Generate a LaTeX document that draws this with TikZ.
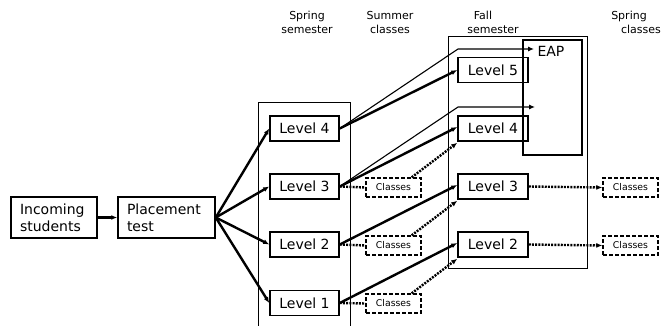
\documentclass[tikz,border=0pt]{standalone}
\usepackage{fontspec}
\setmainfont{DejaVu Sans}
\usetikzlibrary{arrows.meta}
\begin{document}
\begin{tikzpicture}[x=1pt,y=-1pt,
  lvl/.style={draw,line width=1.5pt,minimum width=69pt,minimum height=25pt,inner sep=0pt,font=\fontsize{14}{17}\selectfont},
  startbox/.style={draw,line width=1.5pt,minimum height=41pt,inner xsep=9pt,inner ysep=0pt,align=left,font=\fontsize{14}{17}\selectfont},
  cls/.style={draw,line width=1.3pt,dash pattern=on 4pt off 2pt,minimum width=55pt,minimum height=19pt,inner sep=0pt,font=\fontsize{9.3}{11}\selectfont},
  hdr/.style={align=center,inner sep=0pt,font=\fontsize{11}{14}\selectfont},
  colbox/.style={line width=0.8pt},
  tip/.style={-{Latex[length=6pt,width=5pt]}},
  thk/.style={line width=2.4pt,tip},
  thn/.style={line width=1.1pt,tip},
  dotl/.style={line width=2.4pt,dash pattern=on 2pt off 1.2pt},
  dota/.style={dotl,tip}]
\useasboundingbox (0,0) rectangle (669,326);

% column frames
\draw[colbox] (258,330) -- (258,102) -- (350,102) -- (350,330);
\draw[colbox] (448,36) rectangle (587,268);
\draw[line width=1.8pt] (523,40) rectangle (582,155);
\node[font=\fontsize{14}{17}\selectfont,inner sep=0pt] (eap) at (551,51) {EAP};

% headers
\node[hdr] (h1) at (307,22) {Spring\\semester};
\node[hdr] (h2) at (390,22) {Summer\\classes};
\node[hdr] (h3) at (493,22) {Fall\hspace*{20pt}\\semester};
\node[hdr] (h4) at (641,22) {Spring\hspace*{24pt}\\classes};

% start boxes
\node[startbox,minimum width=86pt,text width=68pt] (inc) at (54,217.5) {Incoming\\students};
\node[startbox,minimum width=97pt,text width=79pt] (plc) at (166.5,217.5) {Placement\\test};

% spring levels
\node[lvl] (s4) at (304.5,128.5) {Level 4};
\node[lvl] (s3) at (304.5,186.5) {Level 3};
\node[lvl] (s2) at (304.5,244.5) {Level 2};
\node[lvl] (s1) at (304.5,303) {Level 1};

% summer classes
\node[cls] (c3) at (393.5,187.5) {Classes};
\node[cls] (c2) at (393.5,245.5) {Classes};
\node[cls] (c1) at (393.5,303.5) {Classes};

% fall levels
\node[lvl,minimum width=70pt] (f5) at (493,70) {Level 5};
\node[lvl,minimum width=70pt] (f4) at (493,128.5) {Level 4};
\node[lvl,minimum width=70pt] (f3) at (493,186.5) {Level 3};
\node[lvl,minimum width=70pt] (f2) at (493,244.5) {Level 2};

% spring classes
\node[cls] (k3) at (630.5,187.5) {Classes};
\node[cls] (k2) at (630.5,245.5) {Classes};

% corner points of the EAP connectors
\coordinate (e1) at (458,49);
\coordinate (e1t) at (534,49);
\coordinate (e2) at (458,107);
\coordinate (e2t) at (535,107);

% connectors
\draw[thk] (inc) -- (plc);
\foreach \t in {s4,s3,s2,s1} \draw[thk] (plc.east) -- (\t.west);

\draw[thk] (s4.east) -- (f5.west);
\draw[thn] (s4.east) -- (e1) -- (e1t);
\draw[thk] (s3.east) -- ([yshift=1.5pt]f4.west);
\draw[thn] (s3.east) -- (e2) -- (e2t);
\draw[thk] (s2.east) -- ([yshift=1.5pt]f3.west);
\draw[thk] (s1.east) -- ([yshift=1.5pt]f2.west);

\draw[dotl] (s3.east) -- (c3.west);
\draw[dotl] (s2.east) -- (c2.west);
\draw[dotl] (s1.east) -- (c1.west);

\draw[dota] ([xshift=-10pt]c3.north east) -- ([yshift=-1pt]f4.south west);
\draw[dota] ([xshift=-10pt]c2.north east) -- ([yshift=-1pt]f3.south west);
\draw[dota] ([xshift=-10pt]c1.north east) -- ([yshift=-1pt]f2.south west);

\draw[dota] (f3.east) -- (k3.west);
\draw[dota] (f2.east) -- (k2.west);
\end{tikzpicture}
\end{document}
